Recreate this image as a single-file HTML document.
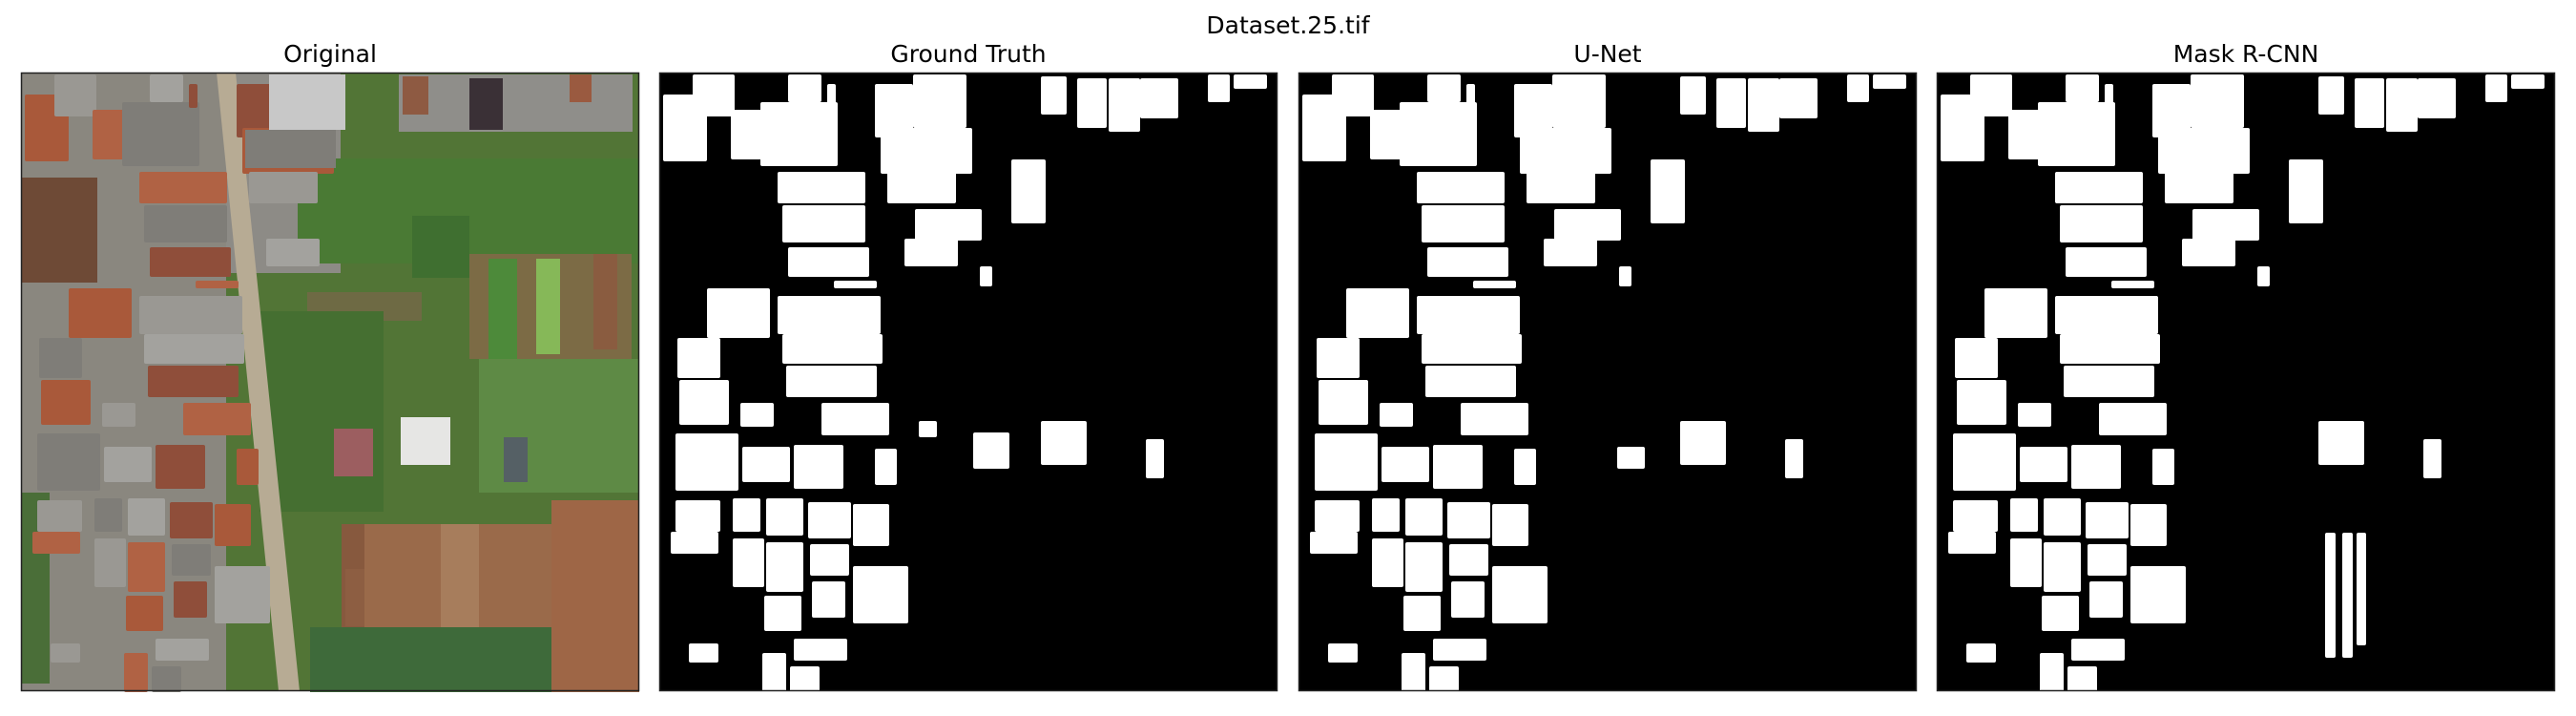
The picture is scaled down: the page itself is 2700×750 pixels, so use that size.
<!DOCTYPE html>
<html><head><meta charset="utf-8"><style>
body{margin:0;background:#fff;width:2700px;height:750px;overflow:hidden;font-family:"Liberation Sans","DejaVu Sans",sans-serif;}
svg{position:absolute;left:0;top:0}
</style></head><body>
<svg id="fig" width="2700" height="750">
<text x="1350" y="35" font-size="25" text-anchor="middle" fill="#000" font-family="DejaVu Sans, sans-serif">Dataset.25.tif</text>
</svg>
<script>
// Panel titles
const titles=["Original","Ground Truth","U-Net","Mask R-CNN"];
// Building footprints in image units (0-648): [x0,x1,y0,y1]
const unet=[[4,50,23,93],[35,79,2,46],[75,110,39,91],[106,187,31,98],[135,170,2,31],[226,266,12,68],[266,322,2,58],[232,328,58,106],[239,311,104,137],[400,427,4,44],[438,469,6,58],[471,504,6,62],[504,544,6,48],[575,598,2,31],[602,637,2,17],[369,405,91,158],[124,216,104,137],[129,216,139,178],[268,338,143,176],[257,313,174,203],[135,220,183,214],[336,349,203,224],[50,116,226,278],[124,232,234,274],[183,228,218,226],[19,64,278,320],[129,234,274,305],[133,228,307,340],[21,73,322,369],[85,120,346,371],[170,241,346,380],[17,83,378,438],[87,137,392,429],[141,193,390,436],[226,249,394,432],[334,363,392,415],[400,448,365,411],[510,529,384,425],[17,64,448,481],[12,62,481,504],[77,106,446,481],[112,151,446,485],[156,201,450,488],[203,241,452,496],[77,110,488,539],[112,151,492,544],[158,199,494,527],[203,261,517,577],[160,195,533,571],[110,149,548,585],[31,62,598,618],[108,133,608,649],[137,168,622,649],[141,197,593,616],[176,185,12,37]];
const gtExtra=[[272,291,365,382],[329,367,377,415],[403,446,365,410]];
const maskExtra=[[407,418,482,613],[425,436,482,613],[440,450,482,600]];
const panelX=[22,691,1361,2030];
const panelY=76, panelS=648;
const svg=document.getElementById('fig');
const NS='http://www.w3.org/2000/svg';
function mk(tag,attrs,parent){const e=document.createElementNS(NS,tag);for(const k in attrs)e.setAttribute(k,attrs[k]);(parent||svg).appendChild(e);return e;}
function sx(p,v){return panelX[p]+v*panelS/648;}
function sy(v){return panelY+v*panelS/648;}
function rects(p,list,colorFn,name){
  list.forEach((r,i)=>{
    const e=mk('rect',{x:sx(p,r[0]),y:sy(r[2]),width:(r[1]-r[0])*panelS/648,height:(r[3]-r[2])*panelS/648,fill:colorFn(i),rx:2});
    
    
  });
}
// Original background regions [x0,x1,y0,y1,color]
const origRegions=[[0,648,0,648,'#527536'],[0,215,0,648,'#8a877f'],[215,335,0,210,'#8d8b86'],[0,80,110,220,'#6e4a36'],[290,648,90,200,'#4a7a34'],[410,470,150,215,'#3f6f30'],[470,640,190,300,'#7c6b45'],[490,520,195,300,'#4d8a3a'],[540,565,195,295,'#86b858'],[600,625,190,290,'#8a5c40'],[300,420,230,260,'#6e6a44'],[250,380,250,460,'#456f31'],[480,648,300,440,'#5e8a45'],[336,556,473,589,'#9a6a4a'],[336,360,473,589,'#87593e'],[440,480,473,589,'#a77d5c'],[303,564,581,649,'#3e6a3a'],[556,648,448,649,'#9e6646'],[396,641,2,62,'#8f8e8a'],[0,30,440,640,'#4a6e38']];
const origMarks=[[398,450,361,411,'#e6e6e4'],[506,531,382,429,'#556065'],[328,369,373,423,'#9c5e60'],[260,340,2,60,'#c8c8c8'],[235,330,60,100,'#7f7d78'],[400,427,4,44,'#8e5a42'],[470,505,6,60,'#3a3036'],[575,598,2,31,'#9a5a40'],[340,360,520,580,'#8d5e42']];
mk('rect',{x:panelX[0],y:panelY,width:panelS,height:panelS,fill:'#527536'});
origRegions.forEach(r=>{const e=mk('rect',{x:sx(0,r[0]),y:sy(r[2]),width:r[1]-r[0],height:r[3]-r[2],fill:r[4]});});
// road
const road=mk('polygon',{points:`${sx(0,205)},${sy(0)} ${sx(0,225)},${sy(0)} ${sx(0,292)},${sy(648)} ${sx(0,270)},${sy(648)}`,fill:'#b7ab94'});

const roofCols=['#a9593a','#9a9893','#b06244','#7f7d78','#a3a29e','#8f4e3a'];
rects(0,unet.filter(r=>r[0]<260),i=>roofCols[i%roofCols.length],'building-roof');
origMarks.forEach(r=>{const e=mk('rect',{x:sx(0,r[0]),y:sy(r[2]),width:r[1]-r[0],height:r[3]-r[2],fill:r[4]});});
// masks
const lists=[null,unet.filter((r,i)=>i!==35).concat(gtExtra),unet,unet.filter((r,i)=>i!==35).concat(maskExtra)];
for(let p=1;p<4;p++){
  const bg=mk('rect',{x:panelX[p],y:panelY,width:panelS,height:panelS,fill:'#000'});
  
  rects(p,lists[p],()=>'#fff','building-mask');
}
for(let p=0;p<4;p++){
  const f=mk('rect',{x:panelX[p]+0.5,y:panelY+0.5,width:panelS-1,height:panelS-1,fill:'none',stroke:'#222','stroke-width':1.5});
  
  const t=mk('text',{x:panelX[p]+panelS/2,y:65,'font-size':25,'text-anchor':'middle','font-family':'DejaVu Sans, sans-serif',fill:'#000'});
  t.textContent=titles[p];
  
}
</script>
</body></html>
